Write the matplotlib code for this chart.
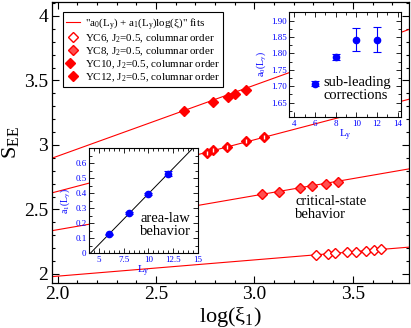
import matplotlib
matplotlib.use("Agg")
import matplotlib.pyplot as plt
import numpy as np
from matplotlib.ticker import MultipleLocator
from matplotlib.lines import Line2D
from matplotlib.legend_handler import HandlerTuple

plt.rcParams['font.family'] = ['Liberation Serif', 'DejaVu Serif']
plt.rcParams['mathtext.default'] = 'regular'

# main panel data: S_EE vs log(xi_1)
yc6_x = [3.314, 3.375, 3.411, 3.472, 3.518, 3.565, 3.609, 3.643]
yc6_s = [2.145, 2.155, 2.160, 2.168, 2.173, 2.180, 2.188, 2.194]
yc8_x = [3.041, 3.127, 3.232, 3.292, 3.365, 3.424]
yc8_s = [2.617, 2.637, 2.666, 2.684, 2.699, 2.713]
yc10_x = [2.758, 2.791, 2.860, 2.956, 3.051]
yc10_s = [2.940, 2.961, 2.986, 3.030, 3.059]
yc12_x = [2.642, 2.791, 2.865, 2.902, 2.956]
yc12_s = [3.263, 3.335, 3.373, 3.394, 3.425]

# fit lines a0 + a1*log(xi)
fit_a0 = [1.731, 1.815, 1.840, 1.813]
fit_a1 = [0.126, 0.264, 0.400, 0.550]
fit_range = [1.97, 3.787]

# insets
L_vals = [6, 8, 10, 12]
a0_vals = [1.708, 1.788, 1.841, 1.842]
a0_err = [0.007, 0.0095, 0.035, 0.037]
a1_vals = [0.127, 0.267, 0.397, 0.530]
a1_err = [0.005, 0.006, 0.008, 0.016]
area_fit_L = [4.1, 14.5]
area_fit_a1 = [0.0, 0.70]

red = '#ff0000'
blue = '#0000ff'

fig = plt.figure(figsize=(4.11, 3.28), dpi=100)
ax = fig.add_axes([0.1258, 0.1372, 0.8701, 0.8576])

xx = np.array(fit_range)
for a0, a1 in zip(fit_a0, fit_a1):
    ax.plot(xx, a0 + a1 * xx, color=red, lw=0.8, zorder=2)

ms = 5.2
ax.plot(yc6_x, yc6_s, 'D', ms=ms, mfc='white', mec=red, mew=1.0, zorder=3)
ax.plot(yc8_x, yc8_s, 'D', ms=ms, mfc='#ff5050', mec=red, mew=1.0, zorder=3)
ax.plot(yc10_x, yc10_s, 'D', ms=ms, mfc=red, mec=red, mew=1.0, zorder=3)
ax.plot(yc10_x, yc10_s, '|', ms=3.5, mec='white', mew=1.0, zorder=4)
ax.plot(yc12_x, yc12_s, 'D', ms=ms, mfc=red, mec=red, mew=1.0, zorder=3)

ax.set_xlim(1.97, 3.787)
ax.set_ylim(1.93, 4.11)
ax.xaxis.set_minor_locator(MultipleLocator(0.1))
ax.yaxis.set_minor_locator(MultipleLocator(0.1))
ax.set_xticks([2.0, 2.5, 3.0, 3.5])
ax.set_xticklabels(['2.0', '2.5', '3.0', '3.5'])
ax.set_yticks([2, 2.5, 3, 3.5, 4])
ax.set_yticklabels(['2', '2.5', '3', '3.5', '4'])
ax.tick_params(which='both', direction='in', top=True, right=True,
               labelsize=14, pad=2.5)
ax.tick_params(which='major', length=5, width=0.8)
ax.tick_params(which='minor', length=2.5, width=0.8)
for sp in ax.spines.values():
    sp.set_linewidth(0.9)
ax.set_xlabel(r'log($\xi_1$)', fontsize=16, labelpad=1)
ax.set_ylabel(r'S$_{EE}$', fontsize=16, labelpad=2)

# legend
h_fit = Line2D([], [], color=red, lw=0.8)
h6 = Line2D([], [], ls='', marker='D', ms=ms, mfc='white', mec=red, mew=1.0)
h8 = Line2D([], [], ls='', marker='D', ms=ms, mfc='#ff5050', mec=red, mew=1.0)
h10a = Line2D([], [], ls='', marker='D', ms=ms, mfc=red, mec=red, mew=1.0)
h10b = Line2D([], [], ls='', marker='|', ms=3.5, mec='white', mew=1.0)
h12 = Line2D([], [], ls='', marker='D', ms=ms, mfc=red, mec=red, mew=1.0)
leg = ax.legend([h_fit, h6, h8, (h10a, h10b), h12],
                ['"a$_0$(L$_y$) + a$_1$(L$_y$)log(\u03be)" fits',
                 'YC6, J$_2$=0.5, columnar order',
                 'YC8, J$_2$=0.5, columnar order',
                 'YC10, J$_2$=0.5, columnar order',
                 'YC12, J$_2$=0.5, columnar order'],
                handler_map={tuple: HandlerTuple(ndivide=None, pad=0)},
                loc='upper left', bbox_to_anchor=(62.7 / 411, 1 - 12.3 / 328),
                bbox_transform=fig.transFigure, borderaxespad=0,
                fontsize=7.9, frameon=True, fancybox=False, framealpha=1,
                edgecolor='black', handlelength=1.3, handletextpad=0.4,
                labelspacing=0.05, borderpad=0.3)
leg.get_frame().set_linewidth(0.8)
leg.set_zorder(5)

ax.text(295 / 411, 1 - 195 / 328, 'critical-state\nbehavior',
        transform=fig.transFigure, fontsize=10.5, ha='left', va='top',
        linespacing=0.95)


def style_inset(a):
    a.tick_params(which='both', direction='in', top=True, right=True,
                  labelsize=6.5, labelcolor=blue, pad=2)
    a.tick_params(which='major', length=3.5, width=0.6)
    a.tick_params(which='minor', length=2, width=0.6)
    for sp in a.spines.values():
        sp.set_linewidth(0.8)


# inset 1: sub-leading corrections a0(Ly)
ins1 = fig.add_axes([289.3 / 411, 1 - 117.3 / 328, 111.4 / 411, 105.6 / 328])
ins1.errorbar(L_vals, a0_vals, yerr=a0_err, fmt='o', color=blue, ms=4.5,
              capsize=3, elinewidth=0.8, capthick=0.8)
ins1.set_xlim(3.5, 14.3)
ins1.set_ylim(1.605, 1.927)
ins1.xaxis.set_major_locator(MultipleLocator(2))
ins1.xaxis.set_minor_locator(MultipleLocator(1))
ins1.yaxis.set_major_locator(MultipleLocator(0.05))
ins1.yaxis.set_minor_locator(MultipleLocator(0.025))
style_inset(ins1)
ins1.set_xlabel('L$_y$', fontsize=8, color=blue, labelpad=0)
ins1.set_ylabel('a$_0$(L$_y$)', fontsize=7, color=blue, labelpad=2)
ins1.text(0.31, 0.39, 'sub-leading\ncorrections', transform=ins1.transAxes,
          fontsize=10.5, ha='left', va='top', linespacing=0.95)

# inset 2: area-law a1(Ly)
ins2 = fig.add_axes([89.3 / 411, 1 - 253.3 / 328, 108.4 / 411, 105 / 328])
ins2.plot(area_fit_L, area_fit_a1, color='black', lw=0.7)
ins2.errorbar(L_vals, a1_vals, yerr=a1_err, fmt='o', color=blue, ms=4.5,
              capsize=3, elinewidth=0.8, capthick=0.8)
ins2.set_xlim(4, 15)
ins2.set_ylim(0, 0.7)
ins2.xaxis.set_minor_locator(MultipleLocator(0.5))
ins2.yaxis.set_minor_locator(MultipleLocator(0.05))
ins2.set_xticks([5, 7.5, 10, 12.5, 15])
ins2.set_xticklabels(['5', '7.5', '10', '12.5', '15'])
ins2.set_yticks([0, 0.1, 0.2, 0.3, 0.4, 0.5, 0.6])
ins2.set_yticklabels(['0', '0.1', '0.2', '0.3', '0.4', '0.5', '0.6'])
style_inset(ins2)
ins2.set_xlabel('L$_y$', fontsize=8, color=blue, labelpad=0)
ins2.set_ylabel('a$_1$(L$_y$)', fontsize=7, color=blue, labelpad=2)
ins2.text(0.70, 0.27, 'area-law\nbehavior', transform=ins2.transAxes,
          fontsize=10.5, ha='center', va='center', linespacing=0.95)

fig.savefig('out.png', dpi=100)
